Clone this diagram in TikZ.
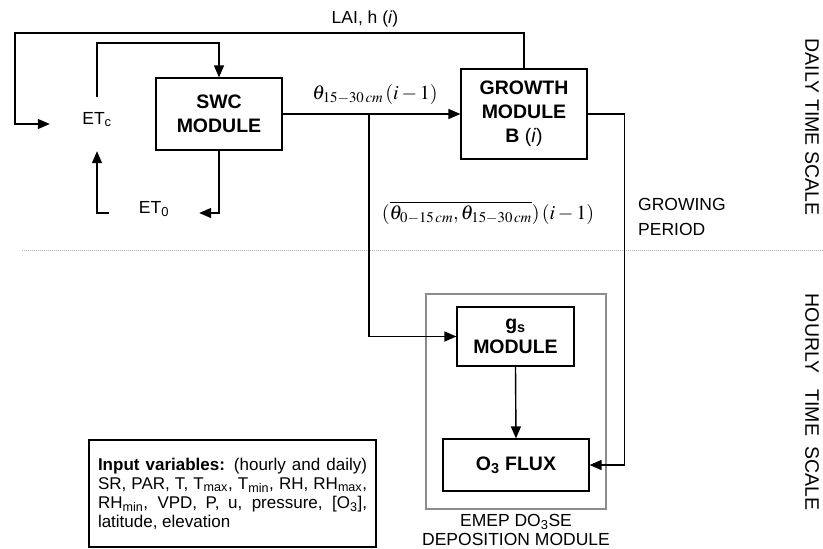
\documentclass[tikz,border=0pt]{standalone}
\usepackage{mathptmx}
\usepackage[no-math]{fontspec}
\setmainfont{Liberation Sans}
\usetikzlibrary{arrows.meta}
\definecolor{emepgray}{RGB}{140,140,140}
\definecolor{dotgray}{RGB}{175,175,175}
\tikzset{
  box/.style={draw, line width=1.2pt, align=center, inner sep=0pt,
    font=\bfseries\fontsize{19.5}{24}\selectfont},
  conn/.style={line width=1.4pt},
  arr/.style={conn, -{Triangle[length=12pt,width=10pt]}},
  lbl/.style={inner sep=0pt, font=\fontsize{17.5}{19}\selectfont},
  mlbl/.style={inner sep=0pt, font=\fontsize{20}{24}\selectfont},
  vlbl/.style={inner sep=0pt, rotate=-90, font=\fontsize{19.5}{20}\selectfont},
}
\begin{document}
\begin{tikzpicture}[x=1pt,y=-1pt]
\useasboundingbox (0,0) rectangle (823,549);

% separator
\draw[dotgray, line width=1pt, dash pattern=on 1pt off 1pt] (22,250) -- (823,250);

% EMEP frame
\node[draw=emepgray, line width=1.2pt, minimum width=180pt, minimum height=215pt, inner sep=0pt] (emep) at (516,401.5) {};

% modules
\node[box, minimum width=126pt, minimum height=72pt] (SWC) at (219,114) {SWC\\MODULE};
\node[box, minimum width=126pt, minimum height=90pt] (Growth) at (524,114) {GROWTH\\MODULE\\B {\normalfont(\textit{i})}};
\node[box, minimum width=117pt, minimum height=59pt] (gs) at (515.5,336.5) {g\textsubscript{s}\\MODULE};
\node[box, minimum width=146pt, minimum height=52pt] (O3) at (516,465) {O\textsubscript{3} FLUX};

% ET nodes
\node[lbl, anchor=base, text height=27pt, text depth=27pt, minimum width=94pt] (ETc) at (97,124) {ET\textsubscript{c}};
\node[lbl, anchor=base, minimum width=90pt] (ET0) at (154,213) {ET\textsubscript{0}};

% coordinates
\coordinate (tl) at (15,33);
\coordinate (etcup) at (97,43);
\coordinate (split) at (369,114);

% connectors
\draw[arr] (Growth.north) |- (tl) |- (ETc.base west);
\draw[arr] (ETc.north) -- (etcup) -| (SWC.north);
\draw[arr] (SWC.south) |- (ET0.base east);
\draw[arr] (ET0.base west) -| (ETc.south);
\draw[arr] (SWC.east) -- (Growth.west);
\draw[arr] (split) |- (gs.west);
\draw[arr] (Growth.east) -- ++(37,0) |- (O3.east);
\draw[arr] (gs.south) -- (O3.north);

% labels
\node[lbl] (lai) at (365,19) {LAI, h (\textit{i})};
\node[mlbl] (thA) at (375,94) {$\theta_{15-30\,cm}\,(i-1)$};
\node[mlbl] (thB) at (488,213) {$(\overline{\theta_{0-15\,cm},\theta_{15-30\,cm}})\,(i-1)$};
\node[inner sep=0pt, anchor=west, align=left, font=\fontsize{17.5}{25}\selectfont] (grow) at (638,216.5) {GROWING\\PERIOD};
\node[lbl, align=center] (emeplbl) at (516,530) {EMEP DO\textsubscript{3}SE\\DEPOSITION MODULE};
\node[vlbl] (daily) at (812,127) {DAILY TIME SCALE};
\node[vlbl] (hourly) at (812,402) {HOURLY\hspace{16pt}TIME\hspace{10pt}SCALE};

% input box
\node[draw, line width=1.2pt, text width=269pt, inner xsep=9pt, inner ysep=0pt, minimum height=107pt, align=justify,
  font=\fontsize{17}{19}\selectfont] (inp) at (232.5,493.5)
  {\textbf{Input variables:} (hourly and daily)\linebreak
   SR, PAR, T, T\textsubscript{max}, T\textsubscript{min}, RH, RH\textsubscript{max},\linebreak
   RH\textsubscript{min}, VPD, P, u, pressure, [O\textsubscript{3}],\linebreak
   latitude, elevation};
\end{tikzpicture}
\end{document}
